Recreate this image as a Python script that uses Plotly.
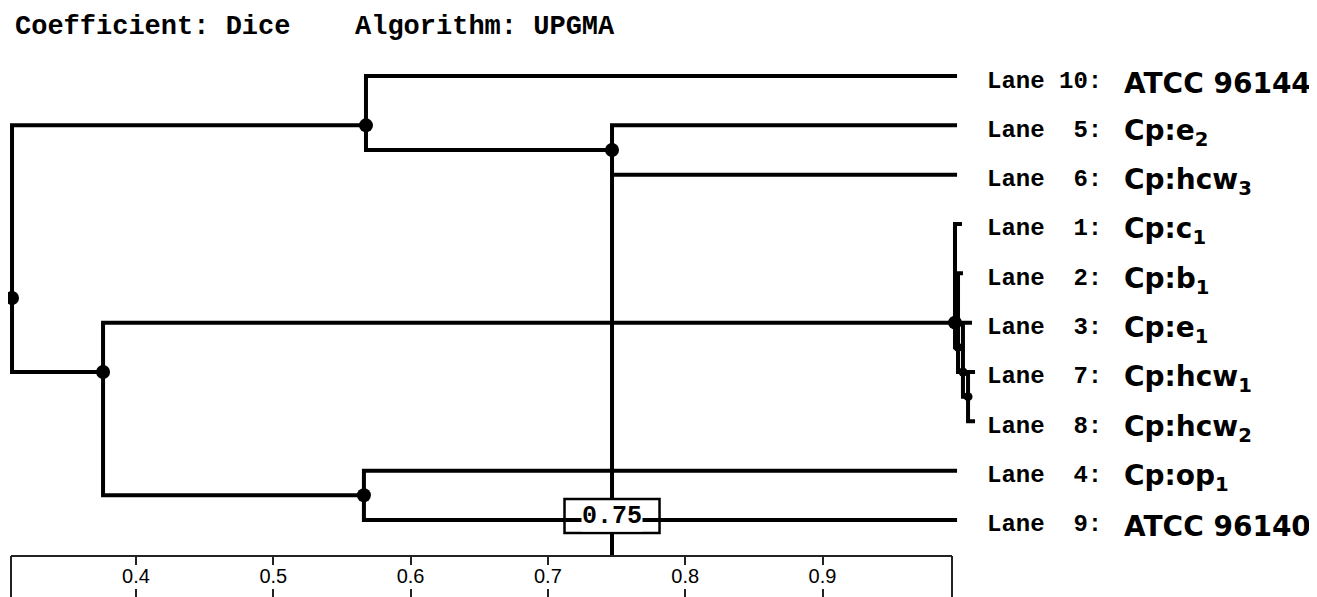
import plotly.graph_objects as go

# ---------------- data ----------------
lane_numbers = [10, 5, 6, 1, 2, 3, 7, 8, 4, 9]          # top to bottom
strain_labels = ["ATCC 96144", "Cp:e<sub>2</sub>", "Cp:hcw<sub>3</sub>",
                 "Cp:c<sub>1</sub>", "Cp:b<sub>1</sub>", "Cp:e<sub>1</sub>",
                 "Cp:hcw<sub>1</sub>", "Cp:hcw<sub>2</sub>", "Cp:op<sub>1</sub>",
                 "ATCC 96140"]
# similarity where each leaf branch ends (as drawn)
leaf_tip = [0.998, 0.998, 0.998, 1.0016, 1.0023, 1.0089, 1.0111, 1.0111, 0.998, 0.998]

# UPGMA merges: children are leaf indices (int) or earlier merges ("m<k>")
merge_left = [6, 5, 4, 3, 1, 8, 0, "m3", "m6"]
merge_right = [7, "m0", "m1", "m2", 2, 9, "m4", "m5", "m7"]
merge_sim = [1.006, 1.0023, 0.9987, 0.9965, 0.7467, 0.566, 0.5675, 0.376, 0.3097]

cutoff_value = 0.7467
cutoff_label = "0.75"
tick_values = [0.4, 0.5, 0.6, 0.7, 0.8, 0.9]
tick_labels = ["0.4", "0.5", "0.6", "0.7", "0.8", "0.9"]

header_left = "Coefficient: Dice"
header_right = "Algorithm: UPGMA"

# ---------------- geometry (figure sits at an 8px page offset) ----------------
W, H = 1309, 589
X_RANGE = [0.306773, 1.260160]
Y_RANGE = [10.5615, -1.3785]
AXIS_ROW = 9.73
AX_RANGE = [0.30896, 0.99432]
AX_DOMAIN = [3 / W, 944 / W]

node = {}
for i, t in enumerate(leaf_tip):
    node[i] = (t, float(i), [i])
for k, (a, b, s) in enumerate(zip(merge_left, merge_right, merge_sim)):
    leaves = node[a][2] + node[b][2]
    node["m%d" % k] = (s, sum(leaves) / len(leaves), leaves)

lx, ly = [], []
for k, (a, b, s) in enumerate(zip(merge_left, merge_right, merge_sim)):
    xa, ya, _ = node[a]
    xb, yb, _ = node[b]
    lx += [xa, s, s, xb, None]
    ly += [ya, ya, yb, yb, None]

# cut-off line with a box label around Lane 9's row
box_half_w = 0.0346
box_top, box_bot = 8.575, 9.264
lx += [cutoff_value, cutoff_value, None, cutoff_value, cutoff_value, None]
ly += [node["m4"][1] + 0.5, box_top, None, box_bot, AXIS_ROW, None]

fig = go.Figure()
fig.add_trace(go.Scatter(x=lx, y=ly, mode="lines",
                         line=dict(color="black", width=4),
                         hoverinfo="skip", showlegend=False))

nx = [node["m%d" % k][0] for k in range(len(merge_sim))]
ny = [node["m%d" % k][1] for k in range(len(merge_sim))]
nsize = [9 if s > 0.997 else 14 for s in merge_sim]
fig.add_trace(go.Scatter(x=nx, y=ny, mode="markers", cliponaxis=False,
                         marker=dict(color="black", size=nsize, opacity=1,
                                     line=dict(width=0)),
                         hoverinfo="skip", showlegend=False))

# axis end verticals
ex0 = AX_RANGE[0]
ex1 = AX_RANGE[1]
fig.add_trace(go.Scatter(x=[ex0, ex0, None, ex1, ex1],
                         y=[AXIS_ROW, 11, None, AXIS_ROW, 11], mode="lines",
                         line=dict(color="#222", width=2),
                         hoverinfo="skip", showlegend=False))

# dummy traces so the scale axes are drawn
fig.add_trace(go.Scatter(x=tick_values, y=[None] * len(tick_values), xaxis="x2",
                         yaxis="y", mode="markers", showlegend=False, hoverinfo="skip"))
fig.add_trace(go.Scatter(x=tick_values, y=[None] * len(tick_values), xaxis="x3",
                         yaxis="y", mode="markers", showlegend=False, hoverinfo="skip"))

shapes = [dict(type="rect", xref="x", yref="y",
               x0=cutoff_value - box_half_w, x1=cutoff_value + box_half_w,
               y0=box_top, y1=box_bot, line=dict(color="black", width=2.5),
               fillcolor="rgba(0,0,0,0)", layer="above")]

annotations = []
nb = "\u00a0"
for i, (n, s) in enumerate(zip(lane_numbers, strain_labels)):
    txt = "Lane" + nb * (3 - len(str(n))) + str(n) + ":"
    annotations.append(dict(x=977 / W, xref="paper", y=i, yref="y", text=txt,
                            xanchor="left", yanchor="middle", showarrow=False,
                            yshift=-5,
                            font=dict(family="Liberation Mono", size=24, color="black",
                                      weight="bold")))
    annotations.append(dict(x=1114 / W, xref="paper", y=i, yref="y", text=s,
                            xanchor="left", yanchor="middle", showarrow=False,
                            yshift=-7,
                            font=dict(family="DejaVu Sans", size=28, color="black",
                                      weight="bold")))

annotations.append(dict(x=cutoff_value, xref="x", y=(box_top + box_bot) / 2, yref="y",
                        text=cutoff_label, showarrow=False, bgcolor="white",
                        borderpad=0, xanchor="center", yanchor="middle",
                        font=dict(family="Liberation Mono", size=25, color="black",
                                  weight="bold")))

annotations.append(dict(x=5 / W, xref="paper", y=1 - 19 / H, yref="paper",
                        text=header_left, showarrow=False, xanchor="left",
                        yanchor="middle",
                        font=dict(family="Liberation Mono", size=27, color="black",
                                  weight="bold")))
annotations.append(dict(x=345 / W, xref="paper", y=1 - 19 / H, yref="paper",
                        text=header_right, showarrow=False, xanchor="left",
                        yanchor="middle",
                        font=dict(family="Liberation Mono", size=27, color="black",
                                  weight="bold")))

fig.update_layout(
    width=W, height=H,
    margin=dict(l=0, r=0, t=0, b=0),
    paper_bgcolor="white", plot_bgcolor="rgba(0,0,0,0)",
    xaxis=dict(range=X_RANGE, visible=False, fixedrange=True),
    yaxis=dict(range=Y_RANGE, visible=False, fixedrange=True),
    xaxis2=dict(domain=AX_DOMAIN, range=AX_RANGE, anchor="free",
                position=1 - 548 / H, showline=True, linecolor="#222", linewidth=2,
                ticks="outside", ticklen=8, tickwidth=2, tickcolor="#222",
                tickvals=tick_values, ticktext=tick_labels, showgrid=False,
                zeroline=False, fixedrange=True, ticklabelstandoff=-6,
                tickfont=dict(family="Liberation Sans", size=20, color="black")),
    xaxis3=dict(domain=AX_DOMAIN, range=AX_RANGE, anchor="free", position=0,
                showline=False, ticks="inside", ticklen=8, tickwidth=2,
                tickcolor="#222", tickvals=tick_values, showticklabels=False,
                showgrid=False, zeroline=False, fixedrange=True),
    shapes=shapes,
    annotations=annotations,
    showlegend=False,
)

fig.write_html("out.html")
